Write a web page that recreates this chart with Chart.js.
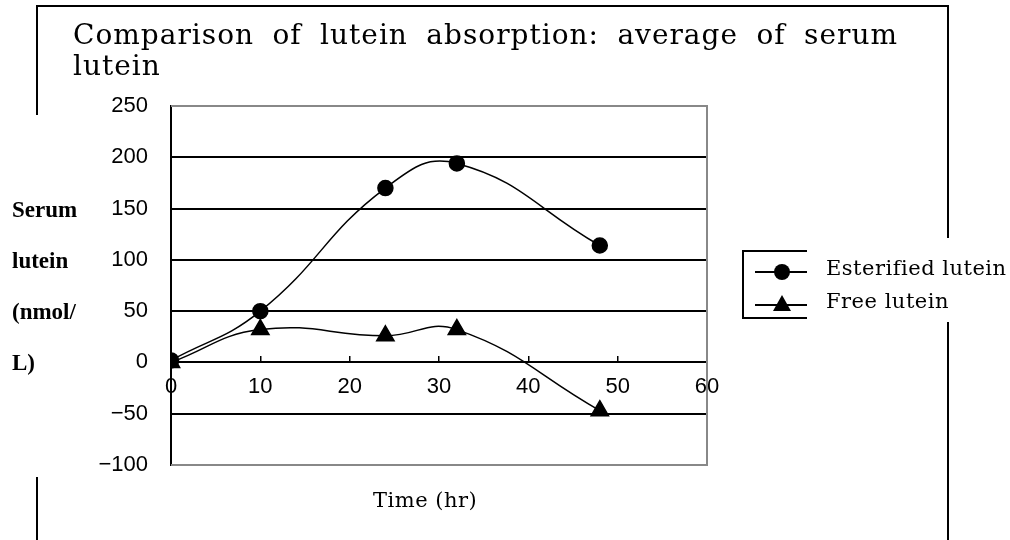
<!DOCTYPE html>
<html>
<head>
<meta charset="utf-8">
<script src="https://cdn.jsdelivr.net/npm/chart.js@4.4.1/dist/chart.umd.min.js"></script>
<style>
html, body { margin: 0; padding: 0; background: #fff; }
</style>
</head>
<body>
<canvas id="luteinChart" width="1010" height="540"></canvas>
<script>
// Lutein absorption data
const timeHours = [0, 10, 24, 32, 48];
const esterifiedLutein = [2, 50, 170, 194, 114];
const freeLutein = [0, 32, 26, 32, -47];
const seriesNames = ['Esterified lutein', 'Free lutein'];
const yTicks = [250, 200, 150, 100, 50, 0, -50, -100];
const xTicks = [0, 10, 20, 30, 40, 50, 60];
const titleLines = ['Comparison of lutein absorption: average of serum', 'lutein'];
const yTitleLines = ['Serum', 'lutein', '(nmol/', 'L)'];
const xTitle = 'Time (hr)';

const tickFont = '"Liberation Sans", Arial, sans-serif';
const serifFont = '"DejaVu Serif", serif';

function toPoints(values) {
    return timeHours.map((t, i) => ({ x: t, y: values[i] }));
}

// frame, cover patches and plot border behind the chart
const backdrop = {
    id: 'backdrop',
    beforeDraw(chart) {
        const c = chart.ctx;
        c.save();
        c.fillStyle = '#fff';
        c.fillRect(0, 0, chart.width, chart.height);
        c.strokeStyle = '#000';
        c.lineWidth = 2;
        c.strokeRect(37, 6, 911, 600);
        c.fillStyle = '#fff';
        c.fillRect(30, 115, 15, 362);
        c.fillRect(940, 238, 20, 84);
        c.restore();
    },
    beforeDatasetsDraw(chart) {
        const a = chart.chartArea;
        const c = chart.ctx;
        c.save();
        c.strokeStyle = '#888';
        c.lineWidth = 2;
        c.beginPath();
        c.moveTo(a.left, a.top);
        c.lineTo(a.right, a.top);
        c.lineTo(a.right, a.bottom);
        c.lineTo(a.left, a.bottom);
        c.stroke();
        c.restore();
    }
};

// titles and legend
const texts = {
    id: 'texts',
    afterDraw(chart) {
        const c = chart.ctx;
        c.save();
        c.fillStyle = '#000';

        // main title, first line justified
        c.font = '28px ' + serifFont;
        c.letterSpacing = '1px';
        c.textBaseline = 'alphabetic';
        c.textAlign = 'left';
        const words = titleLines[0].split(' ');
        const left = 73, right = 898;
        const widths = words.map(w => c.measureText(w).width);
        const gap = (right - left - widths.reduce((s, w) => s + w, 0)) / (words.length - 1);
        let x = left;
        words.forEach((w, i) => {
            c.fillText(w, x, 44);
            x += widths[i] + gap;
        });
        c.fillText(titleLines[1], left, 75);

        // y title
        c.font = 'bold 23px "Liberation Serif", serif';
        c.letterSpacing = '0px';
        yTitleLines.forEach((line, i) => {
            c.fillText(line, 12, 217 + i * 51);
        });

        // x title
        c.font = '21px ' + serifFont;
        c.letterSpacing = '0.5px';
        c.fillText(xTitle, 373, 507);

        // legend
        c.strokeStyle = '#000';
        c.lineWidth = 2;
        c.beginPath();
        c.moveTo(807, 251);
        c.lineTo(743, 251);
        c.lineTo(743, 318);
        c.lineTo(807, 318);
        c.stroke();
        const rows = [272, 305];
        chart.data.datasets.forEach((ds, i) => {
            const y = rows[i];
            c.lineWidth = 2;
            c.beginPath();
            c.moveTo(755, y);
            c.lineTo(807, y);
            c.stroke();
            c.beginPath();
            if (ds.pointStyle === 'circle') {
                c.arc(782, y, 8, 0, Math.PI * 2);
            } else {
                c.moveTo(782, y - 10);
                c.lineTo(782 + 9, y + 6);
                c.lineTo(782 - 9, y + 6);
                c.closePath();
            }
            c.fill();
            c.font = '21px ' + serifFont;
            c.letterSpacing = '0.5px';
            c.textBaseline = 'middle';
            c.fillText(ds.label, 826, y - 2);
        });
        c.restore();
    }
};

const ctx = document.getElementById('luteinChart');

new Chart(ctx, {
    type: 'line',
    data: {
        datasets: [{
            label: seriesNames[0],
            data: toPoints(esterifiedLutein),
            borderColor: '#000',
            backgroundColor: '#000',
            borderWidth: 1.5,
            pointStyle: 'circle',
            pointRadius: 7.5,
            tension: 0.45
        }, {
            label: seriesNames[1],
            data: toPoints(freeLutein),
            borderColor: '#000',
            backgroundColor: '#000',
            borderWidth: 1.5,
            pointStyle: 'triangle',
            pointRadius: 10,
            tension: 0.45
        }]
    },
    options: {
        responsive: false,
        animation: false,
        layout: {
            padding: { left: 0, top: 106, right: 303, bottom: 75 }
        },
        plugins: {
            legend: { display: false },
            tooltip: { enabled: false }
        },
        scales: {
            x: {
                type: 'linear',
                position: { y: 0 },
                min: xTicks[0],
                max: xTicks[xTicks.length - 1],
                afterBuildTicks(scale) {
                    scale.ticks = xTicks.map(v => ({ value: v }));
                },
                border: { display: true, color: '#000', width: 2 },
                grid: {
                    drawOnChartArea: false,
                    drawTicks: true,
                    tickLength: -7,
                    color: '#000',
                    lineWidth: 1.5
                },
                ticks: {
                    color: '#000',
                    padding: 18,
                    maxRotation: 0,
                    font: { family: tickFont, size: 22 }
                }
            },
            y: {
                min: yTicks[yTicks.length - 1],
                max: yTicks[0],
                afterBuildTicks(scale) {
                    scale.ticks = yTicks.map(v => ({ value: v }));
                },
                afterFit(scale) {
                    scale.width = 171;
                },
                border: { display: true, color: '#000', width: 2 },
                grid: {
                    drawTicks: false,
                    lineWidth: 2,
                    color: function(context) {
                        const v = context.tick.value;
                        if (v === yTicks[0] || v === yTicks[yTicks.length - 1]) {
                            return '#888';
                        } else {
                            return '#000';
                        }
                    }
                },
                ticks: {
                    color: '#000',
                    padding: 23,
                    font: { family: tickFont, size: 22 },
                    callback: v => String(v).replace('-', '\u2212')
                }
            }
        }
    },
    plugins: [backdrop, texts]
});
</script>
</body>
</html>
